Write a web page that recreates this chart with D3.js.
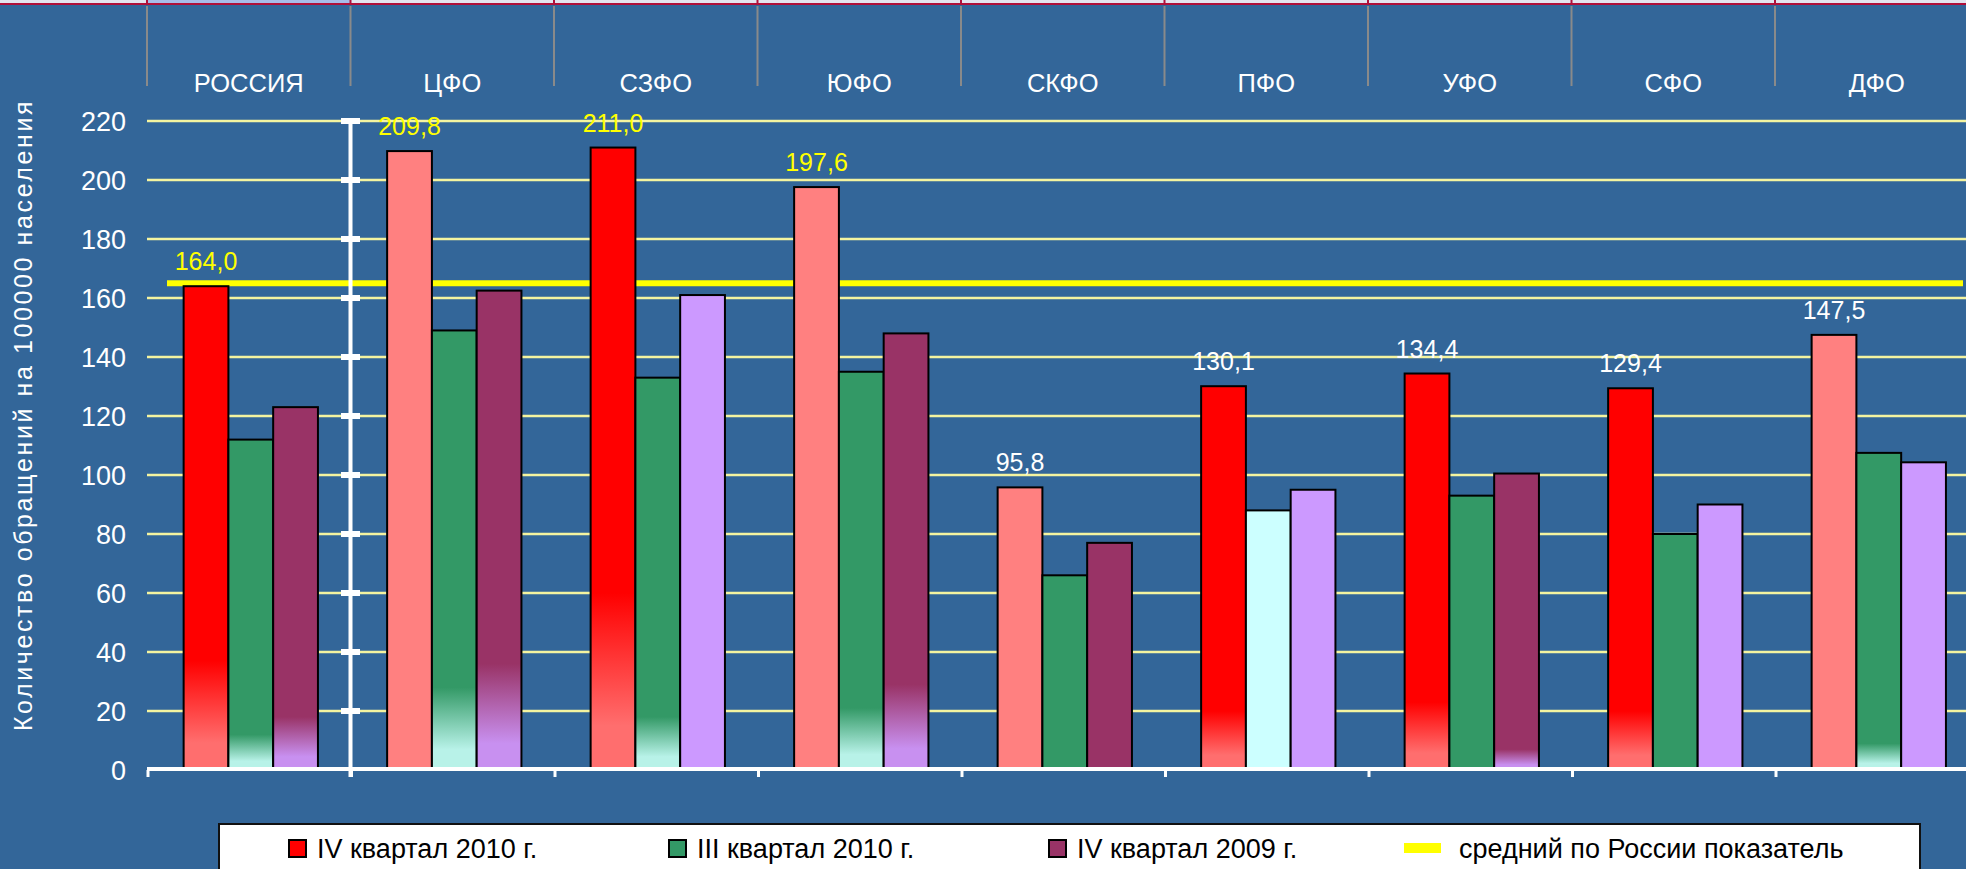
<!DOCTYPE html>
<html>
<head>
<meta charset="utf-8">
<script src="https://cdn.jsdelivr.net/npm/d3@7"></script>
<style>
  html, body { margin: 0; padding: 0; background: #336699; overflow: hidden; }
  svg { display: block; }
  text { font-family: "Liberation Sans", Arial, sans-serif; }
</style>
</head>
<body>
<svg id="chart" width="1966" height="869"></svg>
<script>
// ---------- data ----------
const categories = ["РОССИЯ", "ЦФО", "СЗФО", "ЮФО", "СКФО", "ПФО", "УФО", "СФО", "ДФО"];
const seriesNames = ["IV квартал 2010 г.", "III квартал 2010 г.", "IV квартал 2009 г."];
const q4_2010 = [164.0, 209.8, 211.0, 197.6, 95.8, 130.1, 134.4, 129.4, 147.5];
const q3_2010 = [112, 149, 133, 135, 66, 88, 93, 80, 107.5];
const q4_2009 = [123, 162.5, 161, 148, 77, 95, 100.5, 90, 104.3];
const russiaAverage = 165;                 // level of the yellow line as drawn
const averageLabel = "средний по России показатель";
const yTicks = [0, 20, 40, 60, 80, 100, 120, 140, 160, 180, 200, 220];
const yTitle = "Количество обращений на 100000 населения";

// ---------- styles ----------
const colorsQ4_2010 = ["#FF0000", "#FF8080", "#FF0000", "#FF8080", "#FF8080", "#FF0000", "#FF0000", "#FF0000", "#FF8080"];
const colorsQ3_2010 = ["#339966", "#339966", "#339966", "#339966", "#339966", "#CCFFFF", "#339966", "#339966", "#339966"];
const colorsQ4_2009 = ["#993366", "#993366", "#CC99FF", "#993366", "#993366", "#CC99FF", "#993366", "#CC99FF", "#CC99FF"];
const fadeQ4_2010 = [37, 0, 60, 0, 0, 20, 23, 20, 0];
const fadeQ3_2010 = [12, 28, 18, 21, 0, 0, 0, 0, 9];
const fadeQ4_2009 = [18, 36, 0, 29, 0, 0, 7, 0, 0];
const fadeBottom = ["#FF6E6E", "#B8F2E8", "#C890F0"];
const labelColors = ["#FFFF00", "#FFFF00", "#FFFF00", "#FFFF00", "#FFFFFF", "#FFFFFF", "#FFFFFF", "#FFFFFF", "#FFFFFF"];
const legendColors = ["#FF0000", "#339966", "#993366"];

const W = 1966, H = 869;
const svg = d3.select("#chart");
const defs = svg.append("defs");

const plotLeft = 147, bandStep = 203.5;
const x0 = d3.scaleBand().domain(categories).range([plotLeft, plotLeft + bandStep * categories.length]).padding(0);
const bw = x0.bandwidth();
const x1 = d3.scaleBand().domain([0, 1, 2]).range([0.18 * bw, 0.84 * bw]).padding(0);
const y = d3.scaleLinear().domain([0, 220]).range([770, 121]);

// ---------- header strip ----------
svg.append("rect").attr("x", 0).attr("y", 0).attr("width", W).attr("height", 4).attr("fill", "#e4e4ee");
svg.append("rect").attr("x", x0(categories[0])).attr("y", 0).attr("width", bw).attr("height", 4).attr("fill", "#a8bce8");
svg.append("line").attr("x1", 0).attr("x2", W).attr("y1", 4).attr("y2", 4).attr("stroke", "#B0103A").attr("stroke-width", 2);
const boundaries = categories.map(c => x0(c));
svg.selectAll(".hdr-red").data(boundaries).join("line")
  .attr("x1", d => d).attr("x2", d => d).attr("y1", 0).attr("y2", 5)
  .attr("stroke", "#B0103A").attr("stroke-width", 2);
svg.selectAll(".hdr-sep").data(boundaries).join("line")
  .attr("x1", d => d).attr("x2", d => d).attr("y1", 6).attr("y2", 86)
  .attr("stroke", "#8a8a8a").attr("stroke-width", 2);

// category labels
svg.selectAll(".cat").data(categories).join("text")
  .attr("x", d => x0(d) + bw / 2).attr("y", 92)
  .attr("text-anchor", "middle").attr("fill", "#fff")
  .attr("font-size", 25.5).text(d => d);

// ---------- gridlines ----------
const gridTicks = yTicks.filter(v => v > 0);
svg.selectAll(".grid").data(gridTicks).join("line")
  .attr("x1", plotLeft).attr("x2", W).attr("y1", d => y(d)).attr("y2", d => y(d))
  .attr("stroke", "#F4F4A0").attr("stroke-width", 2.5);

// y tick labels
svg.selectAll(".ylab").data(yTicks).join("text")
  .attr("x", 126).attr("y", d => y(d)).attr("dy", "0.36em")
  .attr("text-anchor", "end").attr("fill", "#fff").attr("font-size", 27)
  .text(d => d);

// y title
svg.append("text")
  .attr("transform", `translate(32, 415) rotate(-90)`)
  .attr("text-anchor", "middle").attr("fill", "#fff")
  .attr("font-size", 25).attr("letter-spacing", 2.6)
  .text(yTitle);

// ---------- average line ----------
svg.append("line")
  .attr("x1", x0(categories[0]) + 20).attr("x2", W - 3)
  .attr("y1", y(russiaAverage)).attr("y2", y(russiaAverage))
  .attr("stroke", "#FFFF00").attr("stroke-width", 6);

// ---------- bars ----------
const seriesVals = [q4_2010, q3_2010, q4_2009];
const seriesCols = [colorsQ4_2010, colorsQ3_2010, colorsQ4_2009];
const seriesFade = [fadeQ4_2010, fadeQ3_2010, fadeQ4_2009];
const bars = [];
categories.forEach((c, i) => {
  seriesVals.forEach((vals, s) => {
    bars.push({ cat: c, i, s, v: vals[i], color: seriesCols[s][i], fade: seriesFade[s][i] });
  });
});
bars.forEach((b, k) => {
  if (b.fade > 0) {
    const g = defs.append("linearGradient").attr("id", "g" + k)
      .attr("gradientUnits", "userSpaceOnUse")
      .attr("x1", 0).attr("x2", 0).attr("y1", y(b.fade)).attr("y2", y(b.fade * 0.25));
    g.append("stop").attr("offset", 0).attr("stop-color", b.color);
    g.append("stop").attr("offset", 1).attr("stop-color", fadeBottom[b.s]);
    b.fill = "url(#g" + k + ")";
  } else b.fill = b.color;
});
svg.selectAll(".bar").data(bars).join("rect")
  .attr("x", d => x0(d.cat) + x1(d.s)).attr("width", x1.bandwidth())
  .attr("y", d => y(d.v)).attr("height", d => y(0) - y(d.v))
  .attr("fill", d => d.fill).attr("stroke", "#000").attr("stroke-width", 2);

// value labels over first series
const fmt = v => d3.format(".1f")(v).replace(".", ",");
svg.selectAll(".vlab").data(q4_2010).join("text")
  .attr("x", (d, i) => x0(categories[i]) + x1(0) + x1.bandwidth() / 2)
  .attr("y", d => y(d) - 16)
  .attr("text-anchor", "middle").attr("font-size", 25)
  .attr("fill", (d, i) => labelColors[i]).text(fmt);

// ---------- axes ----------
const axisX = x0(categories[1]);
svg.append("line").attr("x1", plotLeft).attr("x2", W).attr("y1", y(0) - 1).attr("y2", y(0) - 1)
  .attr("stroke", "#fff").attr("stroke-width", 4);
svg.selectAll(".xtick").data(boundaries).join("line")
  .attr("x1", d => d + 1).attr("x2", d => d + 1).attr("y1", y(0)).attr("y2", y(0) + 7)
  .attr("stroke", "#fff").attr("stroke-width", 3);
svg.append("line").attr("x1", axisX).attr("x2", axisX).attr("y1", y(220) - 3).attr("y2", y(0) + 7)
  .attr("stroke", "#fff").attr("stroke-width", 4);
svg.selectAll(".ytick").data(gridTicks).join("rect")
  .attr("x", axisX - 9.5).attr("width", 19).attr("y", d => y(d) - 3).attr("height", 6)
  .attr("fill", "#fff");

// ---------- legend ----------
const legend = svg.append("g");
legend.append("rect").attr("x", 219).attr("y", 824).attr("width", 1701).attr("height", 80)
  .attr("fill", "#fff").attr("stroke", "#111").attr("stroke-width", 2);
const itemStep = 380;
seriesNames.forEach((name, i) => {
  const lx = 289 + i * itemStep;
  legend.append("rect").attr("x", lx).attr("y", 840).attr("width", 17).attr("height", 17)
    .attr("fill", legendColors[i]).attr("stroke", "#000").attr("stroke-width", 2);
  legend.append("text").attr("x", lx + 28).attr("y", 858).attr("font-size", 27)
    .attr("fill", "#000").text(name);
});
const lineX = 289 + 3 * itemStep - 25;
legend.append("rect").attr("x", lineX).attr("y", 843).attr("width", 37).attr("height", 10).attr("fill", "#FFFF00");
legend.append("text").attr("x", lineX + 55).attr("y", 858).attr("font-size", 27)
  .attr("fill", "#000").text(averageLabel);
</script>
</body>
</html>
